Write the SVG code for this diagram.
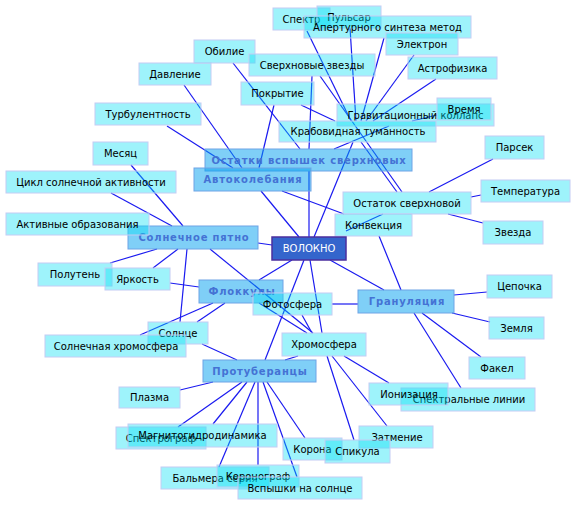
<svg xmlns="http://www.w3.org/2000/svg" width="576" height="506" viewBox="0 0 576 506">
<style>
.bg{fill:#ffffff}
.e line{stroke:#1a1af0;stroke-width:1.2}
.n rect{fill:#00e0f5;fill-opacity:0.38;stroke:#c4ccf4;stroke-width:1}
.n text{font-family:"DejaVu Sans",sans-serif;font-size:10px;fill:#000;text-anchor:middle}
.c rect{fill:#00a0f0;fill-opacity:0.5;stroke:#6ea4e6;stroke-width:1}
.c text{font-family:"DejaVu Sans",sans-serif;font-size:10px;font-weight:bold;fill:#4472d4;text-anchor:middle;letter-spacing:0.8px}
.m rect{fill:#3465cc;stroke:#4b2f9e;stroke-width:1.5}
.m text{font-family:"DejaVu Sans",sans-serif;font-size:10px;fill:#ffffff;text-anchor:middle}
</style>
<rect class="bg" x="0" y="0" width="576" height="506"/>
<g id="connectors" class="e">
<line x1="184" y1="85" x2="242" y2="168"/>
<line x1="167" y1="126" x2="233" y2="168"/>
<line x1="233" y1="63" x2="300" y2="149"/>
<line x1="274" y1="105" x2="259" y2="168"/>
<line x1="301" y1="105" x2="335" y2="121"/>
<line x1="307" y1="31" x2="351" y2="121"/>
<line x1="350" y1="28" x2="356" y2="121"/>
<line x1="384" y1="38" x2="361" y2="121"/>
<line x1="414" y1="55" x2="366" y2="121"/>
<line x1="436" y1="79" x2="373" y2="121"/>
<line x1="312" y1="76" x2="309" y2="149"/>
<line x1="320" y1="76" x2="402" y2="192"/>
<line x1="361" y1="142" x2="397" y2="192"/>
<line x1="437" y1="115" x2="412" y2="121"/>
<line x1="389" y1="126" x2="334" y2="149"/>
<line x1="309" y1="237" x2="309" y2="171"/>
<line x1="314" y1="237" x2="353" y2="142"/>
<line x1="299" y1="237" x2="261" y2="191"/>
<line x1="282" y1="191" x2="344" y2="214"/>
<line x1="346" y1="231" x2="383" y2="214"/>
<line x1="493" y1="159" x2="429" y2="192"/>
<line x1="481" y1="195" x2="471" y2="197"/>
<line x1="483" y1="223" x2="448" y2="214"/>
<line x1="379" y1="236" x2="401" y2="290"/>
<line x1="330" y1="260" x2="384" y2="290"/>
<line x1="258" y1="243" x2="272" y2="245"/>
<line x1="131" y1="165" x2="183" y2="226"/>
<line x1="111" y1="193" x2="172" y2="226"/>
<line x1="110" y1="263" x2="157" y2="249"/>
<line x1="153" y1="268" x2="178" y2="249"/>
<line x1="170" y1="283" x2="199" y2="287"/>
<line x1="210" y1="249" x2="313" y2="333"/>
<line x1="187" y1="249" x2="180" y2="322"/>
<line x1="292" y1="260" x2="259" y2="280"/>
<line x1="197" y1="322" x2="225" y2="303"/>
<line x1="140" y1="335" x2="213" y2="303"/>
<line x1="202" y1="344" x2="237" y2="360"/>
<line x1="259" y1="303" x2="307" y2="333"/>
<line x1="302" y1="315" x2="312" y2="333"/>
<line x1="332" y1="304" x2="358" y2="304"/>
<line x1="304" y1="260" x2="265" y2="360"/>
<line x1="310" y1="260" x2="322" y2="333"/>
<line x1="285" y1="360" x2="298" y2="356"/>
<line x1="213" y1="382" x2="180" y2="390"/>
<line x1="242" y1="382" x2="178" y2="427"/>
<line x1="247" y1="382" x2="213" y2="424"/>
<line x1="255" y1="382" x2="219" y2="467"/>
<line x1="258" y1="382" x2="258" y2="465"/>
<line x1="263" y1="382" x2="297" y2="477"/>
<line x1="267" y1="382" x2="305" y2="438"/>
<line x1="327" y1="356" x2="354" y2="440"/>
<line x1="332" y1="356" x2="387" y2="426"/>
<line x1="344" y1="356" x2="389" y2="383"/>
<line x1="414" y1="313" x2="461" y2="388"/>
<line x1="422" y1="313" x2="481" y2="357"/>
<line x1="452" y1="313" x2="490" y2="322"/>
<line x1="454" y1="295" x2="487" y2="292"/>
</g>
<g id="n_davlenie" class="n"><rect x="139" y="63" width="72" height="22"/><text x="175" y="77.5">Давление</text></g>
<g id="n_turb" class="n"><rect x="95" y="103" width="106" height="22"/><text x="148" y="117.5">Турбулентность</text></g>
<g id="n_mesyats" class="n"><rect x="93" y="142" width="55" height="23"/><text x="120.5" y="157">Месяц</text></g>
<g id="n_spektr" class="n"><rect x="273" y="8" width="57" height="22"/><text x="301.5" y="22.5">Спектр</text></g>
<g id="n_pulsar" class="n"><rect x="317" y="6" width="64" height="22"/><text x="349" y="20.5">Пульсар</text></g>
<g id="n_apert" class="n"><rect x="304" y="16" width="167" height="22"/><text x="387.5" y="30.5">Апертурного синтеза метод</text></g>
<g id="n_elektron" class="n"><rect x="386" y="33" width="72" height="22"/><text x="422" y="47.5">Электрон</text></g>
<g id="n_obilie" class="n"><rect x="194" y="40" width="61" height="23"/><text x="224.5" y="55">Обилие</text></g>
<g id="n_sverh" class="n"><rect x="249" y="54" width="126" height="22"/><text x="312" y="68.5">Сверхновые звезды</text></g>
<g id="n_astro" class="n"><rect x="408" y="57" width="89" height="22"/><text x="452.5" y="71.5">Астрофизика</text></g>
<g id="n_pokrytie" class="n"><rect x="241" y="82" width="73" height="23"/><text x="277.5" y="97">Покрытие</text></g>
<g id="n_grav" class="n"><rect x="337" y="104" width="157" height="22"/><text x="415.5" y="118.5">Гравитационный коллапс</text></g>
<g id="n_vremya" class="n"><rect x="437" y="98" width="54" height="22"/><text x="464" y="112.5">Время</text></g>
<g id="n_krab" class="n"><rect x="279" y="121" width="157" height="21"/><text x="358" y="135">Крабовидная туманность</text></g>
<g id="n_parsek" class="n"><rect x="485" y="136" width="59" height="23"/><text x="514.5" y="151">Парсек</text></g>
<g id="n_ostatki" class="c"><rect x="205" y="149" width="207" height="22"/><text x="309" y="163.5">Остатки вспышек сверхновых</text></g>
<g id="n_avto" class="c"><rect x="194" y="168" width="117" height="23"/><text x="253" y="183">Автоколебания</text></g>
<g id="n_tsikl" class="n"><rect x="6" y="171" width="170" height="22"/><text x="91" y="185.5">Цикл солнечной активности</text></g>
<g id="n_ostatok" class="n"><rect x="343" y="192" width="128" height="22"/><text x="407" y="206.5">Остаток сверхновой</text></g>
<g id="n_temp" class="n"><rect x="481" y="180" width="89" height="22"/><text x="525.5" y="194.5">Температура</text></g>
<g id="n_pyatno" class="c"><rect x="128" y="226" width="130" height="23"/><text x="194" y="241">Солнечное пятно</text></g>
<g id="n_aktiv" class="n"><rect x="6" y="213" width="143" height="22"/><text x="77.5" y="227.5">Активные образования</text></g>
<g id="n_konv" class="n"><rect x="335" y="214" width="77" height="22"/><text x="373.5" y="228.5">Конвекция</text></g>
<g id="n_zvezda" class="n"><rect x="483" y="221" width="60" height="23"/><text x="513" y="236">Звезда</text></g>
<g id="n_volokno" class="m"><rect x="272" y="237" width="74" height="23"/><text x="309" y="252">ВОЛОКНО</text></g>
<g id="n_polut" class="n"><rect x="38" y="263" width="74" height="23"/><text x="75" y="278">Полутень</text></g>
<g id="n_yarkost" class="n"><rect x="105" y="268" width="65" height="22"/><text x="137.5" y="282.5">Яркость</text></g>
<g id="n_flokk" class="c"><rect x="199" y="280" width="84" height="23"/><text x="242" y="295">Флоккулы</text></g>
<g id="n_tsepochka" class="n"><rect x="487" y="275" width="65" height="23"/><text x="519.5" y="290">Цепочка</text></g>
<g id="n_granul" class="c"><rect x="358" y="290" width="96" height="23"/><text x="407" y="305">Грануляция</text></g>
<g id="n_foto" class="n"><rect x="253" y="293" width="79" height="22"/><text x="292.5" y="307.5">Фотосфера</text></g>
<g id="n_zemlya" class="n"><rect x="489" y="317" width="55" height="22"/><text x="516.5" y="331.5">Земля</text></g>
<g id="n_solntse" class="n"><rect x="148" y="322" width="60" height="22"/><text x="178" y="336.5">Солнце</text></g>
<g id="n_solkhrom" class="n"><rect x="45" y="335" width="141" height="22"/><text x="116" y="349.5">Солнечная хромосфера</text></g>
<g id="n_khrom" class="n"><rect x="282" y="333" width="84" height="23"/><text x="324" y="348">Хромосфера</text></g>
<g id="n_protub" class="c"><rect x="203" y="360" width="113" height="22"/><text x="260" y="374.5">Протуберанцы</text></g>
<g id="n_fakel" class="n"><rect x="469" y="357" width="56" height="22"/><text x="497" y="371.5">Факел</text></g>
<g id="n_plazma" class="n"><rect x="119" y="387" width="61" height="21"/><text x="149.5" y="401">Плазма</text></g>
<g id="n_spektrlin" class="n"><rect x="401" y="388" width="134" height="23"/><text x="469" y="403">Спектральные линии</text></g>
<g id="n_ioniz" class="n"><rect x="369" y="383" width="79" height="22"/><text x="409" y="397.5">Ионизация</text></g>
<g id="n_spektrograf" class="n"><rect x="116" y="427" width="90" height="22"/><text x="161" y="441.5">Спектрограф</text></g>
<g id="n_magn" class="n"><rect x="128" y="424" width="149" height="23"/><text x="202.5" y="439">Магнитогидродинамика</text></g>
<g id="n_zatmenie" class="n"><rect x="359" y="426" width="74" height="22"/><text x="397" y="440.5">Затмение</text></g>
<g id="n_korona" class="n"><rect x="283" y="438" width="59" height="22"/><text x="312.5" y="452.5">Корона</text></g>
<g id="n_spikula" class="n"><rect x="325" y="440" width="65" height="23"/><text x="357.5" y="455">Спикула</text></g>
<g id="n_balmer" class="n"><rect x="161" y="467" width="108" height="22"/><text x="215" y="481.5">Бальмера серия</text></g>
<g id="n_koronograf" class="n"><rect x="217" y="465" width="82" height="22"/><text x="258" y="479.5">Коронограф</text></g>
<g id="n_vspyshki" class="n"><rect x="238" y="477" width="124" height="22"/><text x="300" y="491.5">Вспышки на солнце</text></g>
</svg>
